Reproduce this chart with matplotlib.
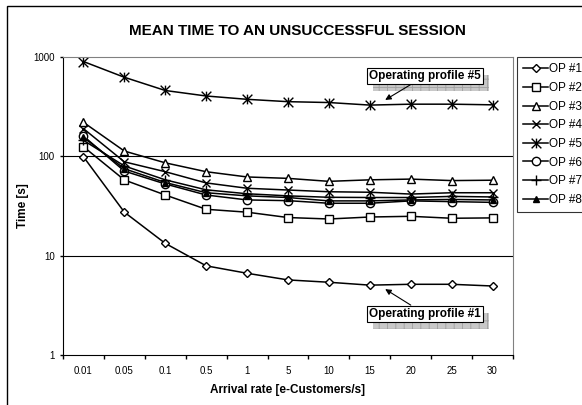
import matplotlib
matplotlib.use('Agg')
import matplotlib.pyplot as plt
import matplotlib.transforms as mtransforms
from matplotlib.path import Path
from matplotlib.patches import Rectangle

plt.rcParams['font.family'] = ['Liberation Sans', 'DejaVu Sans']
plt.rcParams['hatch.linewidth'] = 0.6

arrival_rates = ['0.01', '0.05', '0.1', '0.5', '1', '5', '10', '15', '20', '25', '30']
series_names = ['OP #1', 'OP #2', 'OP #3', 'OP #4', 'OP #5', 'OP #6', 'OP #7', 'OP #8']
op1 = [99, 27.4, 13.3, 7.9, 6.65, 5.7, 5.4, 5.05, 5.15, 5.15, 4.95]
op2 = [125, 57.8, 40.8, 29.3, 27.4, 24.2, 23.4, 24.5, 24.9, 23.8, 24.0]
op3 = [220, 113, 86, 70, 62, 60, 56, 58, 59, 57, 57.5]
op4 = [190, 88, 70, 54, 47.7, 45.8, 44, 43.5, 41.7, 43, 43]
op5 = [900, 625, 460, 405, 375, 355, 348, 328, 335, 335, 330]
op6 = [160, 71, 52.7, 40.8, 36.4, 35.8, 33.7, 33.7, 35.6, 35, 34.4]
op7 = [145, 80, 58, 46, 42, 40, 38.7, 38.5, 38.5, 39.5, 39]
op8 = [155, 75, 54.5, 43, 40, 38.5, 35.6, 35.6, 36.4, 36.8, 36.4]
all_series = [op1, op2, op3, op4, op5, op6, op7, op8]

# excel style star: an x with a vertical bar through it
star = Path([(0, -1), (0, 1), (-1, -1), (1, 1), (-1, 1), (1, -1)],
            [Path.MOVETO, Path.LINETO] * 3)
styles = [
    dict(marker='D', ms=4.5, mfc='white'),
    dict(marker='s', ms=6, mfc='white'),
    dict(marker='^', ms=6, mfc='white'),
    dict(marker='x', ms=6, mew=1.0),
    dict(marker=star, ms=7, mew=1.0),
    dict(marker='o', ms=6, mfc='white'),
    dict(marker='+', ms=7, mew=1.0),
    dict(marker='^', ms=5, mfc='black'),
]

fig = plt.figure(figsize=(5.82, 4.05), dpi=100)
fig.patches.append(Rectangle((7 / 582, -0.1), 1.2, 1 - 6 / 405 + 0.1,
                             transform=fig.transFigure, fill=False,
                             edgecolor='black', lw=1.0))
ax = fig.add_axes([63 / 582, 50 / 405, 450 / 582, 298 / 405])

xs = list(range(len(arrival_rates)))
for name, vals, st in zip(series_names, all_series, styles):
    ax.plot(xs, vals, color='black', lw=1.1, mec='black', label=name, **st)

ax.set_yscale('log')
ax.set_ylim(1, 1000)
ax.set_yticks([1, 10, 100, 1000])
ax.set_yticklabels(['1', '10', '100', '1000'])
ax.yaxis.set_minor_locator(matplotlib.ticker.NullLocator())
ax.tick_params(axis='y', direction='out', length=2.5, width=1, pad=3.5, labelsize=7)

ax.set_xlim(-0.5, len(arrival_rates) - 0.5)
ax.set_xticks([i - 0.5 for i in range(len(arrival_rates) + 1)])
ax.set_xticklabels([])
ax.set_xticks(xs, minor=True)
ax.set_xticklabels(arrival_rates, minor=True)
ax.tick_params(axis='x', which='major', direction='out', length=3, width=1)
ax.tick_params(axis='x', which='minor', length=0, pad=8, labelsize=7)

for yv in [10, 100]:
    ax.axhline(yv, color='black', lw=0.8, zorder=0)
ax.spines['top'].set_color('#808080')
ax.spines['right'].set_color('#808080')

ax.set_ylabel('Time [s]', fontsize=8.5, fontweight='bold', labelpad=3)
ax.set_xlabel('Arrival rate [e-Customers/s]', fontsize=8.5, fontweight='bold', labelpad=6)
fig.text(297 / 582, 1 - 31 / 405, 'MEAN TIME TO AN UNSUCCESSFUL SESSION',
         ha='center', va='center', fontsize=11, fontweight='bold')

# callout boxes, the hatched drop shadow is added after a first draw
callouts = [('Operating profile #5', (0.804, 0.936), (0.716, 0.856)),
            ('Operating profile #1', (0.804, 0.138), (0.716, 0.221))]
notes = []
for txt, pos, tip in callouts:
    notes.append(ax.annotate(
        txt, xy=tip, xycoords='axes fraction', xytext=pos,
        textcoords='axes fraction', ha='center', va='center',
        fontsize=8.5, fontweight='bold', zorder=5,
        bbox=dict(boxstyle='square,pad=0.2', facecolor='white',
                  edgecolor='black', lw=0.8),
        arrowprops=dict(arrowstyle='-|>,head_length=0.4,head_width=0.2',
                        color='black', lw=0.8, shrinkA=0, shrinkB=0)))

leg = fig.legend(loc='upper left', bbox_to_anchor=(517 / 582, 1 - 57 / 405),
                 fontsize=8.5, frameon=True, fancybox=False, edgecolor='black',
                 handlelength=2.1, handletextpad=0.1, labelspacing=0.56,
                 borderpad=0.55, borderaxespad=0, numpoints=1)
leg.get_frame().set_linewidth(0.8)

fig.canvas.draw()
for note in notes:
    bb = note.get_bbox_patch().get_window_extent()
    ax.add_patch(Rectangle((bb.x0 + 6, bb.y0 - 7), bb.width, bb.height,
                           transform=mtransforms.IdentityTransform(),
                           facecolor='#c8c8c8', edgecolor='#a0a0a0', hatch='++',
                           lw=0, zorder=4, clip_on=False))

fig.savefig('out.png', dpi=100)
